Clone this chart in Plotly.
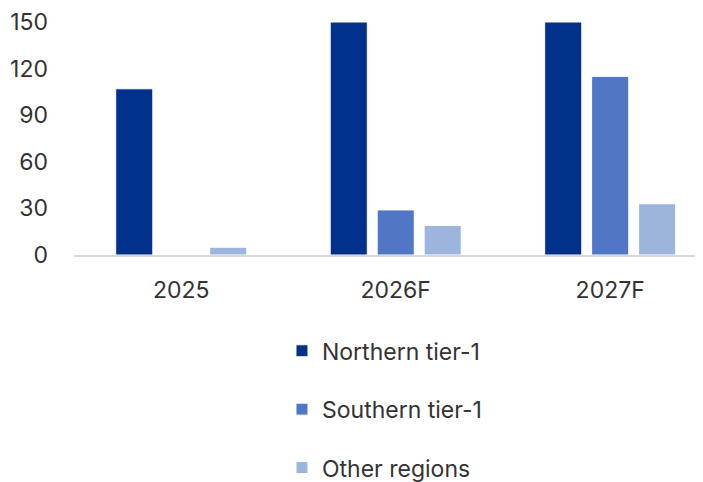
import plotly.graph_objects as go

categories = ["2025", "2026F", "2027F"]
northern = [107, 150, 150]
southern = [0, 29, 115]
other = [5, 19, 33]
series_names = ["Northern tier-1", "Southern tier-1", "Other regions"]
colors = ["#02318C", "#5276C6", "#9DB5DD"]
tick_vals = [0, 30, 60, 90, 120, 150]

fig = go.Figure()
for i, (name, vals) in enumerate(zip(series_names, [northern, southern, other])):
    fig.add_trace(go.Bar(
        x=categories, y=vals, name=name,
        marker=dict(color=colors[i], line=dict(color="white", width=1)),
        legendgroup=name,
    ))

font_family = "Inter, Roboto, sans-serif"
fig.update_layout(
    width=703, height=482,
    margin=dict(l=66, r=0, t=12, b=235),
    paper_bgcolor="white", plot_bgcolor="white",
    barmode="group", bargap=0.343, bargroupgap=0.21,
    font=dict(family=font_family, size=23, color="#333333"),
    showlegend=True,
    legend=dict(
        orientation="v", x=0.3265, xanchor="left",
        yref="container", y=0.3334, yanchor="top",
        font=dict(size=23, color="#333333"),
        tracegroupgap=25.5, itemwidth=30,
    ),
)
fig.update_xaxes(
    type="category", range=[-0.5, 2.47],
    showline=True, linecolor="#d9d9d9", linewidth=2,
    showgrid=False, ticks="", ticklabelstandoff=13,
    tickfont=dict(size=23, color="#333333"),
)
fig.update_yaxes(
    range=[0, 150], tickvals=tick_vals,
    showgrid=False, zeroline=False, showline=False,
    ticklabelstandoff=25, ticklabeloverflow="allow",
    tickfont=dict(size=23, color="#333333"),
)

fig.write_html("out.html")
